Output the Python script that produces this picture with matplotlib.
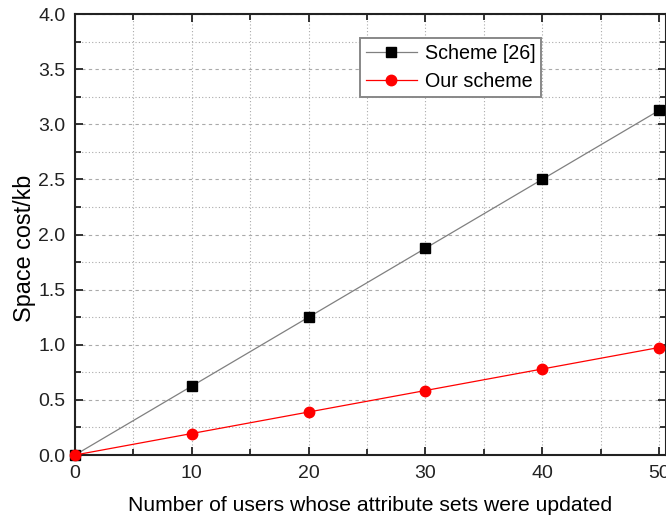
import matplotlib
matplotlib.use('Agg')
import matplotlib.pyplot as plt
from matplotlib.ticker import MultipleLocator

plt.rcParams['font.family'] = ['Liberation Sans', 'DejaVu Sans']

users = [0, 10, 20, 30, 40, 50]
scheme26 = [0.0, 0.625, 1.25, 1.875, 2.5, 3.125]
ours = [0.0, 0.195, 0.39, 0.585, 0.78, 0.975]

fig = plt.figure(figsize=(6.66, 5.17), dpi=100)
ax = fig.add_axes([0.1126, 0.1199, 0.8874, 0.853])

ax.plot(users, scheme26, color='#808080', lw=0.9, marker='s', ms=6.5,
        mfc='black', mec='black', label='Scheme [26]', clip_on=False, zorder=3)
ax.plot(users, ours, color='red', lw=0.9, marker='o', ms=7.5,
        mfc='red', mec='red', label='Our scheme', clip_on=False, zorder=3)

ax.set_xlim(0, 50.6)
ax.set_ylim(0, 4.0)
ax.xaxis.set_major_locator(MultipleLocator(10))
ax.xaxis.set_minor_locator(MultipleLocator(5))
ax.yaxis.set_major_locator(MultipleLocator(0.5))
ax.yaxis.set_minor_locator(MultipleLocator(0.25))
ax.yaxis.set_major_formatter(plt.FormatStrFormatter('%.1f'))

ax.grid(which='major', axis='y', color='#aaaaaa', ls=(0, (3, 3)), lw=0.8)
ax.grid(which='minor', axis='y', color='#aaaaaa', ls=(0, (1, 2)), lw=0.8)
ax.grid(which='both', axis='x', color='#aaaaaa', ls=(0, (1, 2)), lw=0.8)
ax.set_axisbelow(True)

ax.tick_params(which='both', direction='in', top=True, right=True,
               labelsize=14, width=1.3, colors='#222222', pad=7)
ax.tick_params(which='major', length=6)
ax.tick_params(which='minor', length=4)
for sp in ax.spines.values():
    sp.set_linewidth(1.5)
    sp.set_color('#222222')

ax.set_xlabel('Number of users whose attribute sets were updated', fontsize=15.2)
ax.xaxis.set_label_coords(0.5, -0.114, transform=ax.transAxes)
ax.xaxis.label.set_va('center')
ax.set_ylabel('Space cost/kb', fontsize=16.8)
ax.yaxis.set_label_coords(-0.086, 0.469, transform=ax.transAxes)
ax.yaxis.label.set_va('center')

leg = ax.legend(loc='upper left', bbox_to_anchor=(0.482, 0.945), fontsize=14.2,
                fancybox=False, edgecolor='#888888', framealpha=1,
                handlelength=2.6, borderpad=0.3, labelspacing=0.45, handletextpad=0.4,
                borderaxespad=0)
leg.get_frame().set_linewidth(1.4)

fig.savefig('out.png', dpi=100)
